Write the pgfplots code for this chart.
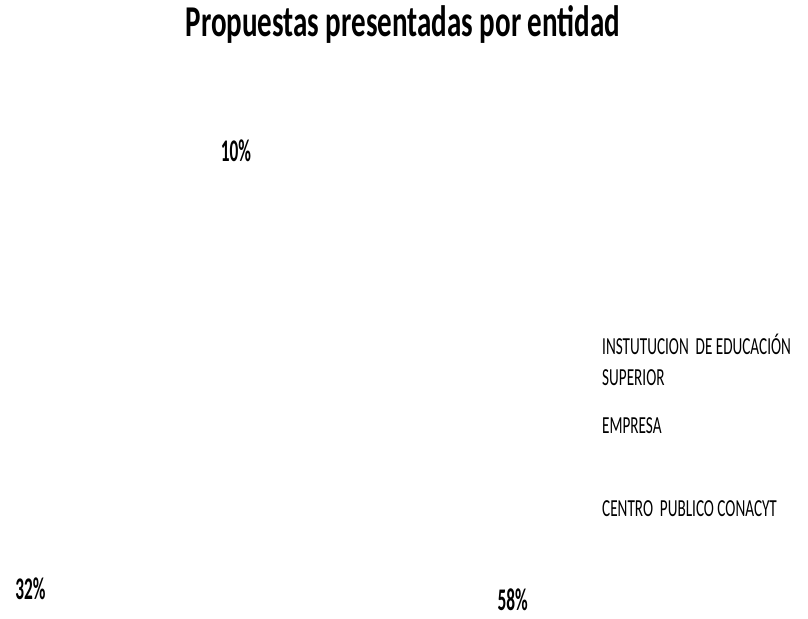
\documentclass[border=0pt]{standalone}
\usepackage{fontspec}
\usepackage{pgfplots}
\usepackage{pgfplotstable}
\pgfplotsset{compat=1.18}
\setmainfont{Carlito}
\newfontfamily\titlef[FakeStretch=0.66]{Carlito}
\newfontfamily\labf[FakeStretch=0.55]{Carlito}
\newfontfamily\legf[FakeStretch=0.62]{Carlito}

\pgfplotstableread{
x y v
236 151 10
30.5 589 32
512.7 600 58
}\pcts

\begin{document}
\begin{tikzpicture}
\begin{axis}[
  width=808bp, height=619bp, scale only axis,
  hide axis, clip=false,
  xmin=0, xmax=808, ymin=0, ymax=619, y dir=reverse,
]
\path (axis cs:0,0) rectangle (axis cs:808,619);
\addplot[draw=none, mark=none, nodes near coords={\pgfplotspointmeta\%},
  point meta=explicit symbolic,
  every node near coord/.append style={anchor=center, inner sep=0pt, font=\labf\bfseries\fontsize{31.5bp}{36bp}\selectfont, text=black}]
  table[x=x, y=y, meta=v] {\pcts};
\node[anchor=base, inner sep=0pt, font=\titlef\bfseries\fontsize{44bp}{50bp}\selectfont] at (axis cs:403,36.7) {Propuestas presentadas por entidad};
\begin{scope}[every node/.style={anchor=base west, inner sep=0pt, font=\legf\fontsize{24.5bp}{28bp}\selectfont}]
\node at (axis cs:602,354) {INSTUTUCION\ \ DE EDUCACIÓN};
\node at (axis cs:602,385) {SUPERIOR};
\node at (axis cs:602,433) {EMPRESA};
\node at (axis cs:602,516.7) {CENTRO\ \ PUBLICO CONACYT};
\end{scope}
\end{axis}
\end{tikzpicture}
\end{document}
